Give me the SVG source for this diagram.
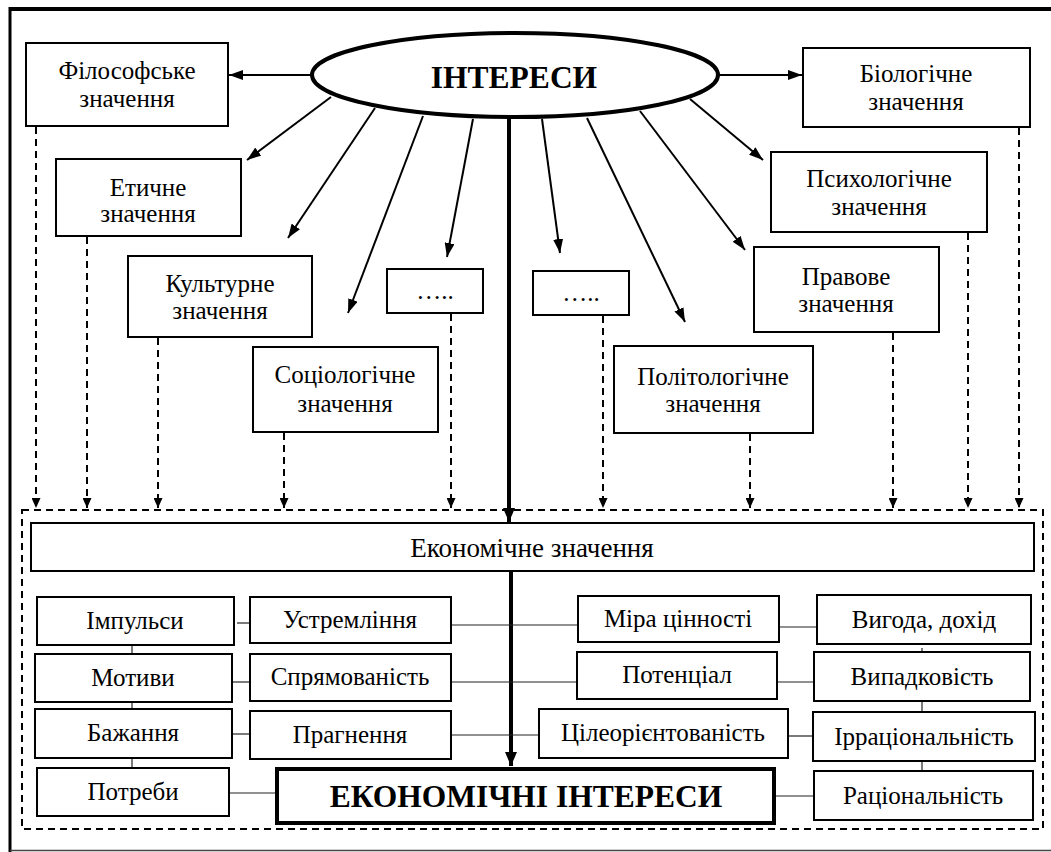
<svg xmlns="http://www.w3.org/2000/svg" width="1051" height="852" viewBox="0 0 1051 852">
<defs>
<style>
.box{fill:#fff;stroke:#000;stroke-width:2}
.t{font-family:'Liberation Serif','Times New Roman',serif;font-size:25px;text-anchor:middle;fill:#000}
.b{font-weight:bold;font-size:31.5px}
.arr{stroke:#000;stroke-width:2;fill:none;marker-end:url(#ah)}
.dash{stroke:#000;stroke-width:2;fill:none;stroke-dasharray:7 5;marker-end:url(#ahs)}
.thin{stroke:#222;stroke-width:1.2;fill:none}
</style>
<marker id="ah" viewBox="0 0 14 10" refX="14" refY="5" markerWidth="14" markerHeight="10" markerUnits="userSpaceOnUse" orient="auto"><path d="M0,0 L14,5 L0,10 z" fill="#000"/></marker>
<marker id="ahs" viewBox="0 0 10 9" refX="10" refY="4.5" markerWidth="10" markerHeight="9" markerUnits="userSpaceOnUse" orient="auto"><path d="M0,0 L10,4.5 L0,9 z" fill="#000"/></marker>
<marker id="ahb" viewBox="0 0 14 12" refX="14" refY="6" markerWidth="14" markerHeight="12" markerUnits="userSpaceOnUse" orient="auto"><path d="M0,0 L14,6 L0,12 z" fill="#000"/></marker>
</defs>
<rect width="1051" height="852" fill="#fff"/>
<g id="frame">
<line x1="9" y1="9" x2="1051" y2="9" stroke="#000" stroke-width="4"/>
<line x1="10" y1="7" x2="10" y2="852" stroke="#000" stroke-width="3"/>
<line x1="10" y1="850.5" x2="1051" y2="850.5" stroke="#444" stroke-width="1.5"/>
<rect x="22" y="510" width="1021" height="319" fill="none" stroke="#000" stroke-width="2" stroke-dasharray="7 5"/>
</g>
<g id="connectors">
<line class="arr" x1="312" y1="75" x2="229" y2="75"/>
<line class="arr" x1="718" y1="75" x2="802" y2="75"/>
<line class="arr" x1="331" y1="97" x2="247" y2="160"/>
<line class="arr" x1="375" y1="108" x2="288" y2="238"/>
<line class="arr" x1="423" y1="116" x2="348" y2="313"/>
<line class="arr" x1="473" y1="119" x2="447" y2="257"/>
<line x1="509" y1="118" x2="509" y2="522" stroke="#000" stroke-width="4" marker-end="url(#ahb)"/>
<line class="arr" x1="542" y1="119" x2="560" y2="253"/>
<line class="arr" x1="587" y1="118" x2="685" y2="322"/>
<line class="arr" x1="640" y1="111" x2="745" y2="250"/>
<line class="arr" x1="690" y1="99" x2="763" y2="160"/>
<line class="dash" x1="36" y1="127" x2="36" y2="508"/>
<line class="dash" x1="87" y1="237" x2="87" y2="508"/>
<line class="dash" x1="158" y1="338" x2="158" y2="508"/>
<line class="dash" x1="284" y1="433" x2="284" y2="508"/>
<line class="dash" x1="451" y1="314" x2="451" y2="508"/>
<line class="dash" x1="603" y1="316" x2="603" y2="508"/>
<line class="dash" x1="750" y1="434" x2="750" y2="508"/>
<line class="dash" x1="893" y1="333" x2="893" y2="508"/>
<line class="dash" x1="968" y1="233" x2="968" y2="508"/>
<line class="dash" x1="1019" y1="128" x2="1019" y2="508"/>
<line x1="511" y1="572" x2="511" y2="766" stroke="#000" stroke-width="4" marker-end="url(#ahb)"/>
<line class="thin" x1="132" y1="645" x2="132" y2="654"/>
<line class="thin" x1="132" y1="702" x2="132" y2="709"/>
<line class="thin" x1="132" y1="758" x2="132" y2="768"/>
<line class="thin" x1="237" y1="623" x2="250" y2="623"/>
<line class="thin" x1="232" y1="682" x2="250" y2="682"/>
<line class="thin" x1="232" y1="734" x2="250" y2="734"/>
<line class="thin" x1="229" y1="793" x2="277" y2="793"/>
<line class="thin" x1="451" y1="625" x2="578" y2="625"/>
<line class="thin" x1="451" y1="682" x2="577" y2="682"/>
<line class="thin" x1="451" y1="735" x2="539" y2="735"/>
<line class="thin" x1="779" y1="627" x2="817" y2="627"/>
<line class="thin" x1="777" y1="682" x2="814" y2="682"/>
<line class="thin" x1="788" y1="736" x2="813" y2="736"/>
<line class="thin" x1="774" y1="796" x2="814" y2="796"/>
<line class="thin" x1="922" y1="648" x2="922" y2="652"/>
<line class="thin" x1="922" y1="701" x2="922" y2="712"/>
<line class="thin" x1="922" y1="761" x2="922" y2="771"/>
</g>
<g id="interesy">
<ellipse cx="515" cy="75" rx="203" ry="42" fill="#fff" stroke="#000" stroke-width="4"/>
<text class="t b" x="514" y="88">ІНТЕРЕСИ</text>
</g>
<g id="filosofske"><rect class="box" x="26" y="43" width="202" height="83"/><text class="t" x="127" y="79">Філософське</text><text class="t" x="127" y="107">значення</text></g>
<g id="biolohichne"><rect class="box" x="803" y="48" width="227" height="79"/><text class="t" x="916" y="82">Біологічне</text><text class="t" x="916" y="110">значення</text></g>
<g id="etychne"><rect class="box" x="56" y="159" width="185" height="77"/><text class="t" x="148" y="196">Етичне</text><text class="t" x="148" y="222">значення</text></g>
<g id="psykholohichne"><rect class="box" x="771" y="152" width="216" height="80"/><text class="t" x="879" y="187">Психологічне</text><text class="t" x="879" y="215">значення</text></g>
<g id="kulturne"><rect class="box" x="128" y="256" width="184" height="81"/><text class="t" x="220" y="292">Культурне</text><text class="t" x="220" y="319">значення</text></g>
<g id="pravove"><rect class="box" x="754" y="247" width="185" height="85"/><text class="t" x="846" y="285">Правове</text><text class="t" x="846" y="312">значення</text></g>
<g id="dots1"><rect class="box" x="387" y="269" width="96" height="44"/><text class="t" x="435" y="299">…..</text></g>
<g id="dots2"><rect class="box" x="533" y="271" width="96" height="44"/><text class="t" x="581" y="301">…..</text></g>
<g id="sotsiolohichne"><rect class="box" x="253" y="347" width="185" height="85"/><text class="t" x="345" y="383">Соціологічне</text><text class="t" x="345" y="412">значення</text></g>
<g id="politolohichne"><rect class="box" x="614" y="346" width="199" height="87"/><text class="t" x="713" y="385">Політологічне</text><text class="t" x="713" y="412">значення</text></g>
<g id="ekon-znach"><rect class="box" x="31" y="523" width="1003" height="48"/><text class="t" x="532" y="557" style="font-size:27px">Економічне значення</text></g>
<g id="impulsy"><rect class="box" x="37" y="597" width="197" height="48"/><text class="t" x="135" y="629">Імпульси</text></g>
<g id="motyvy"><rect class="box" x="35" y="654" width="197" height="48"/><text class="t" x="133" y="686">Мотиви</text></g>
<g id="bazhannia"><rect class="box" x="35" y="709" width="197" height="49"/><text class="t" x="133" y="741">Бажання</text></g>
<g id="potreby"><rect class="box" x="37" y="768" width="192" height="48"/><text class="t" x="133" y="800">Потреби</text></g>
<g id="ustremlinnia"><rect class="box" x="250" y="597" width="201" height="46"/><text class="t" x="350" y="628">Устремління</text></g>
<g id="spriamovanist"><rect class="box" x="250" y="654" width="201" height="47"/><text class="t" x="350" y="685">Спрямованість</text></g>
<g id="prahnennia"><rect class="box" x="250" y="711" width="201" height="48"/><text class="t" x="350" y="743">Прагнення</text></g>
<g id="ekon-interesy"><rect x="277" y="769" width="497" height="54" fill="#fff" stroke="#000" stroke-width="4"/><text class="t b" x="526" y="807">ЕКОНОМІЧНІ ІНТЕРЕСИ</text></g>
<g id="mira"><rect class="box" x="578" y="596" width="201" height="46"/><text class="t" x="678" y="627">Міра цінності</text></g>
<g id="potentsial"><rect class="box" x="577" y="652" width="200" height="47"/><text class="t" x="677" y="683">Потенціал</text></g>
<g id="tsileorientovanist"><rect class="box" x="539" y="709" width="249" height="49"/><text class="t" x="663" y="741">Цілеорієнтованість</text></g>
<g id="vyhoda"><rect class="box" x="817" y="595" width="214" height="49"/><text class="t" x="924" y="628">Вигода, дохід</text></g>
<g id="vypadkovist"><rect class="box" x="814" y="652" width="216" height="49"/><text class="t" x="922" y="685">Випадковість</text></g>
<g id="irratsionalnist"><rect class="box" x="813" y="712" width="222" height="49"/><text class="t" x="924" y="745">Ірраціональність</text></g>
<g id="ratsionalnist"><rect class="box" x="814" y="771" width="219" height="49"/><text class="t" x="923" y="804">Раціональність</text></g>
</svg>
